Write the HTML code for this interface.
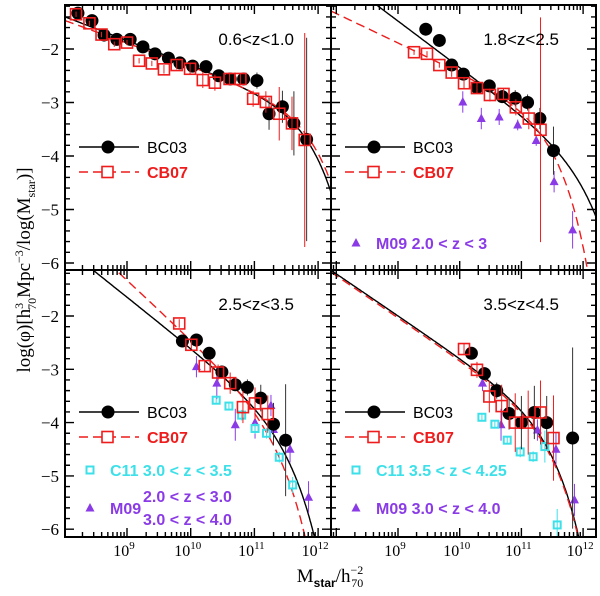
<!DOCTYPE html>
<html><head><meta charset="utf-8">
<style>
html,body{margin:0;padding:0;background:#fff;width:600px;height:596px;overflow:hidden;position:relative;}
svg{display:block;position:absolute;left:0;top:0;font-family:"Liberation Serif",serif;}
.lab{font-family:"Liberation Sans",sans-serif;}
</style></head>
<body>
<svg id="chart" width="600" height="596" viewBox="0 0 600 596" xmlns="http://www.w3.org/2000/svg" overflow="hidden">
<defs>
<clipPath id="c0"><rect x="65" y="5" width="266" height="265"/></clipPath>
<clipPath id="c1"><rect x="331" y="5" width="265" height="265"/></clipPath>
<clipPath id="c2"><rect x="65" y="270" width="266" height="267"/></clipPath>
<clipPath id="c3"><rect x="331" y="270" width="265" height="267"/></clipPath>
</defs>
<text transform="translate(30,270) rotate(-90)" text-anchor="middle" font-size="19">log(φ)[h<tspan font-size="12" dy="-7">3</tspan><tspan font-size="12" dx="-7" dy="13">70</tspan><tspan dy="-6">Mpc</tspan><tspan font-size="12" dy="-7">−3</tspan><tspan dy="7">/log(M</tspan><tspan font-size="12" dy="5">star</tspan><tspan dy="-5">)]</tspan></text>
<text x="330" y="582" text-anchor="middle" font-size="19">M<tspan font-size="12" font-family="Liberation Sans,sans-serif" font-weight="bold" dy="5">star</tspan><tspan dy="-5">/h</tspan><tspan font-size="12" dy="-8">−2</tspan><tspan font-size="12" dx="-12" dy="13">70</tspan></text>
</svg>
<script>
// ---- data (log10 M, log10 phi) ----
const p0_bc_x=[8.23,8.45,8.64,8.84,9.05,9.25,9.44,9.65,9.83,10.03,10.24,10.44,10.62,10.83,11.04,11.23,11.44,11.62,11.82];
const p0_bc_y=[-1.33,-1.47,-1.74,-1.82,-1.82,-1.96,-2.09,-2.17,-2.26,-2.32,-2.33,-2.50,-2.56,-2.56,-2.59,-3.21,-3.08,-3.39,-3.69];
const p0_bc_e=[0.05,0.05,0.05,0.05,0.05,0.05,0.05,0.05,0.08,0.08,0.08,0.1,0.1,0.1,0.15,0.3,0.3,0.6,1.9];
const p0_cb_x=[8.20,8.41,8.60,8.80,9.00,9.19,9.39,9.58,9.78,9.99,10.19,10.38,10.61,10.78,10.98,11.18,11.39,11.59,11.79];
const p0_cb_y=[-1.35,-1.52,-1.73,-1.91,-1.88,-2.22,-2.27,-2.38,-2.30,-2.37,-2.58,-2.63,-2.56,-2.56,-2.93,-2.99,-3.21,-3.39,-3.70];
const p0_cb_e=[0.05,0.05,0.05,0.05,0.05,0.05,0.05,0.08,0.08,0.1,0.15,0.15,0.1,0.1,0.15,0.2,0.5,0.5,2.0];

const p1_bc_x=[9.45,9.67,9.87,10.06,10.28,10.48,10.69,10.90,11.10,11.30,11.52];
const p1_bc_y=[-1.63,-1.84,-2.30,-2.47,-2.72,-2.69,-2.89,-2.92,-3.00,-3.30,-3.90];
const p1_bc_e=[0.05,0.05,0.08,0.1,0.1,0.1,0.12,0.15,0.15,0.2,0.45];
const p1_cb_x=[9.26,9.47,9.67,9.87,10.07,10.28,10.49,10.71,10.91,11.12,11.31];
const p1_cb_y=[-2.06,-2.09,-2.30,-2.44,-2.64,-2.73,-2.86,-2.84,-3.09,-3.30,-3.51];
const p1_cb_e=[0.05,0.05,0.05,0.08,0.1,0.1,0.12,0.1,0.15,0.2,2.1];
const p1_m9_x=[10.05,10.35,10.64,10.94,11.24,11.53,11.83];
const p1_m9_y=[-2.99,-3.30,-3.27,-3.42,-3.71,-4.48,-5.38];
const p1_m9_e=[0.2,0.2,0.15,0.1,0.1,0.2,0.35];

const p2_bc_x=[9.87,10.09,10.29,10.49,10.70,10.89,11.10,11.30,11.49];
const p2_bc_y=[-2.47,-2.45,-2.70,-3.05,-3.29,-3.34,-3.54,-4.03,-4.33];
const p2_bc_e=[0.05,0.05,0.05,0.1,0.1,0.15,0.25,0.4,1.05];
const p2_cb_x=[9.82,10.01,10.22,10.43,10.62,10.82,11.01,11.21];
const p2_cb_y=[-2.14,-2.54,-2.94,-3.06,-3.26,-3.71,-3.64,-3.84];
const p2_cb_e=[0.08,0.08,0.1,0.15,0.2,0.3,0.3,0.35];
const p2_c11_x=[10.40,10.60,10.80,11.01,11.19,11.39,11.60];
const p2_c11_y=[-3.58,-3.69,-3.86,-4.11,-4.20,-4.65,-5.17];
const p2_c11_e=[0.05,0.05,0.1,0.1,0.1,0.1,0.15];
const p2_m9_x=[10.09,10.41,10.70,11.01,11.26,11.30,11.56,11.85];
const p2_m9_y=[-2.95,-3.26,-4.04,-4.00,-3.68,-4.13,-4.50,-5.40];
const p2_m9_e=[0.2,0.3,0.3,0.3,0.2,0.3,0.25,0.3];

const p3_bc_x=[10.19,10.40,10.60,10.80,11.00,11.21,11.41,11.83];
const p3_bc_y=[-2.70,-3.08,-3.40,-3.83,-4.00,-3.81,-4.00,-4.29];
const p3_bc_e=[0.1,0.1,0.15,0.3,0.5,0.5,0.5,1.7];
const p3_cb_x=[10.07,10.28,10.48,10.68,10.90,11.11,11.31,11.52];
const p3_cb_y=[-2.62,-3.01,-3.51,-3.69,-4.00,-4.00,-3.81,-4.29];
const p3_cb_e=[0.1,0.15,0.3,0.4,0.55,0.6,0.6,0.8];
const p3_c11_x=[10.36,10.57,10.77,10.98,11.19,11.38,11.58];
const p3_c11_y=[-3.90,-4.03,-4.33,-4.55,-4.64,-4.45,-5.92];
const p3_c11_e=[0.05,0.05,0.08,0.1,0.1,0.3,0.3];
const p3_m9_x=[10.37,10.67,11.26,11.56,11.86];
const p3_m9_y=[-3.26,-4.04,-4.14,-4.50,-5.45];
const p3_m9_e=[0.15,0.3,0.2,0.3,0.3];

// Schechter fit params [logMstar, slope(alpha+1), amplitude]
const fit_bc=[[11.7,-0.455,-3.07],[11.9,-0.865,-3.986],[11.35,-0.952,-3.883],[11.3,-0.787,-3.807]];
const fit_cb=[[11.75,-0.4315,-3.075],[11.3,-0.547,-3.143],[11.2,-1.11,-3.77],[11.3,-0.79,-3.85]];

const yTicks=[-2,-3,-4,-5,-6];
const xTickExp=[9,10,11,12];

const panels=[
 {x0:65,x1:331,y0:5,y1:270,xA:127,xs:63.7,yA:49,ys:53.5,label:"0.6<z<1.0"},
 {x0:331,x1:596,y0:5,y1:270,xA:398,xs:61.7,yA:49,ys:53.5,label:"1.8<z<2.5"},
 {x0:65,x1:331,y0:270,y1:537,xA:127,xs:63.7,yA:316,ys:53.3,label:"2.5<z<3.5"},
 {x0:331,x1:596,y0:270,y1:537,xA:398,xs:61.7,yA:316,ys:53.3,label:"3.5<z<4.5"}
];
const data=[
 {bc:[p0_bc_x,p0_bc_y,p0_bc_e],cb:[p0_cb_x,p0_cb_y,p0_cb_e]},
 {bc:[p1_bc_x,p1_bc_y,p1_bc_e],cb:[p1_cb_x,p1_cb_y,p1_cb_e],m9:[p1_m9_x,p1_m9_y,p1_m9_e]},
 {bc:[p2_bc_x,p2_bc_y,p2_bc_e],cb:[p2_cb_x,p2_cb_y,p2_cb_e],c11:[p2_c11_x,p2_c11_y,p2_c11_e],m9:[p2_m9_x,p2_m9_y,p2_m9_e]},
 {bc:[p3_bc_x,p3_bc_y,p3_bc_e],cb:[p3_cb_x,p3_cb_y,p3_cb_e],c11:[p3_c11_x,p3_c11_y,p3_c11_e],m9:[p3_m9_x,p3_m9_y,p3_m9_e]}
];
const RED="#ee1c1c",CYAN="#3de0e8",PUR="#8a3be6";
const NS="http://www.w3.org/2000/svg";
const svg=document.getElementById("chart");
function mk(tag,attrs,parent){const e=document.createElementNS(NS,tag);for(const k in attrs)e.setAttribute(k,attrs[k]);(parent||svg).appendChild(e);return e;}
function schech(p,l){return p[2]+p[1]*(l-p[0])-Math.pow(10,l-p[0])*Math.LOG10E;}

panels.forEach((P,i)=>{
 const X=l=>P.xA+(l-9)*P.xs, Y=v=>P.yA-(v+2)*P.ys;
 const lmin=9+(P.x0-P.xA)/P.xs, lmax=9+(P.x1-P.xA)/P.xs;
 const vtop=-2+(P.yA-P.y0)/P.ys, vbot=-2-(P.y1-P.yA)/P.ys;
 const clampY=v=>Y(Math.max(vbot-0.05,Math.min(vtop+0.05,v)));
 const g=mk("g",{"clip-path":"url(#c"+i+")"});
 
 
 [[fit_bc[i],"#000","none"],[fit_cb[i],RED,"9,5"]].forEach(([p,col,da],j)=>{
  let d="";
  for(let l=lmin;l<=lmax+0.01;l+=0.01){const v=schech(p,l);d+=(d?"L":"M")+X(l).toFixed(1)+","+clampY(v).toFixed(1);if(v<vbot)break;}
  const c=mk("path",{d:d,fill:"none",stroke:col,"stroke-width":1.4,"stroke-dasharray":da},g);
  
  
 });
 const D=data[i];
 function errs(s,col){s[0].forEach((l,k)=>{const e=mk("line",{x1:X(l),x2:X(l),y1:clampY(s[1][k]+s[2][k]),y2:clampY(s[1][k]-s[2][k]),stroke:col,"stroke-width":1},g);
  
  });}
 if(D.m9){errs(D.m9,PUR);D.m9[0].forEach((l,k)=>{const x=X(l),y=Y(D.m9[1][k]);const t=mk("polygon",{points:`${x},${y-5} ${x-4.5},${y+3.5} ${x+4.5},${y+3.5}`,fill:PUR},g);
  
  });}
 if(D.c11){errs(D.c11,CYAN);D.c11[0].forEach((l,k)=>{const x=X(l),y=Y(D.c11[1][k]);const t=mk("rect",{x:x-3.5,y:y-3.5,width:7,height:7,fill:"none",stroke:CYAN,"stroke-width":2},g);
  
  });}
 errs(D.bc,"#333");
 D.bc[0].forEach((l,k)=>{const c=mk("circle",{cx:X(l),cy:Y(D.bc[1][k]),r:6.5,fill:"#000"},g);
  
  });
 errs(D.cb,RED);
 D.cb[0].forEach((l,k)=>{const r=mk("rect",{x:X(l)-5.5,y:Y(D.cb[1][k])-5.5,width:11,height:11,fill:"none",stroke:RED,"stroke-width":1.6},g);
  
  });
 const f=mk("rect",{x:P.x0,y:P.y0,width:P.x1-P.x0,height:P.y1-P.y0,fill:"none",stroke:"#000","stroke-width":2});
 
 
 let td="";
 for(let e=Math.floor(lmin);e<=Math.ceil(lmax);e++){for(let k=1;k<=9;k++){const l=e+Math.log10(k);if(l<lmin||l>lmax)continue;const x=X(l),len=k==1?9:5;
  td+=`M${x},${P.y1}v${-len}M${x},${P.y0}v${len}`;}}
 for(let n=Math.ceil(vbot*5);n<=Math.floor(vtop*5);n++){const v=n/5,y=Y(v),len=(n%5==0)?9:5;
  td+=`M${P.x0},${y}h${len}M${P.x1},${y}h${-len}`;}
 const tk=mk("path",{d:td,stroke:"#000","stroke-width":1.4,fill:"none"});
 
 
 if(i==0||i==2){yTicks.forEach(v=>{const t=mk("text",{x:P.x0-6,y:Y(v)+6,"text-anchor":"end","font-size":17});t.textContent=String(v).replace("-","−");
  
  });}
 if(i>=2){xTickExp.forEach(e=>{const t=mk("text",{x:X(e)-3,y:556,"text-anchor":"middle","font-size":16});t.innerHTML=`10<tspan font-size="11" dy="-7">${e}</tspan>`;
  
  });}
 const zl=mk("text",{x:P.x1-37,y:P.y0+40,"text-anchor":"end","font-size":17,class:"lab"});zl.textContent=P.label;
 
 
 const lx=P.x0+14, ly1=P.y0+142, ly2=P.y0+167;
 const lg=mk("g",{class:"lab"});
 
 
 mk("line",{x1:lx,x2:lx+60,y1:ly1,y2:ly1,stroke:"#000","stroke-width":1.4},lg);
 mk("circle",{cx:lx+29,cy:ly1,r:6.5,fill:"#000"},lg);
 const t1=mk("text",{x:lx+68,y:ly1+6,"font-size":16},lg);t1.textContent="BC03";
 
 
 mk("line",{x1:lx,x2:lx+60,y1:ly2,y2:ly2,stroke:RED,"stroke-width":1.4,"stroke-dasharray":"9,5"},lg);
 mk("rect",{x:lx+23,y:ly2-5.5,width:11,height:11,fill:"#fff",stroke:RED,"stroke-width":1.6},lg);
 const t2=mk("text",{x:lx+68,y:ly2+6,"font-size":16,"font-weight":"bold",fill:RED},lg);t2.textContent="CB07";
 
 
 const cx=lx+11, cy=P.y0+200, my=P.y0+238;
 if(i==1){mk("polygon",{points:`${cx},${my-5} ${cx-4.5},${my+3.5} ${cx+4.5},${my+3.5}`,fill:PUR},lg);
  const t=mk("text",{x:cx+20,y:my+6,"font-size":16,"font-weight":"bold",fill:PUR},lg);t.setAttribute("xml:space","preserve");t.textContent="M09 2.0 < z < 3";
  
  }
 if(i>=2){mk("rect",{x:cx-3.5,y:cy-3.5,width:7,height:7,fill:"none",stroke:CYAN,"stroke-width":2},lg);
  const t=mk("text",{x:cx+20,y:cy+6,"font-size":16,"font-weight":"bold",fill:CYAN},lg);t.textContent=i==2?"C11 3.0 < z < 3.5":"C11 3.5 < z < 4.25";
  
  
  mk("polygon",{points:`${cx},${my-5} ${cx-4.5},${my+3.5} ${cx+4.5},${my+3.5}`,fill:PUR},lg);
  if(i==2){const a=mk("text",{x:cx+20,y:my+6,"font-size":16,"font-weight":"bold",fill:PUR},lg);a.textContent="M09";
   
   
   const b=mk("text",{x:cx+53,y:my-6,"font-size":16,"font-weight":"bold",fill:PUR},lg);b.textContent="2.0 < z < 3.0";
   
   
   const c=mk("text",{x:cx+53,y:my+17,"font-size":16,"font-weight":"bold",fill:PUR},lg);c.textContent="3.0 < z < 4.0";
   
   }
  else{const a=mk("text",{x:cx+20,y:my+6,"font-size":16,"font-weight":"bold",fill:PUR},lg);a.textContent="M09 3.0 < z < 4.0";
   
   }
 }
});
</script>
</body></html>
